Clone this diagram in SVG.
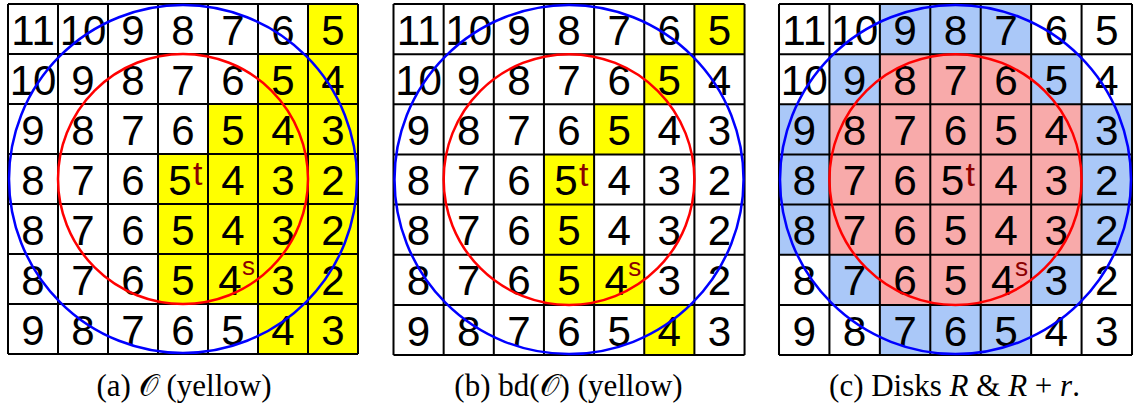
<svg xmlns="http://www.w3.org/2000/svg" width="1136" height="411" viewBox="0 0 1136 411">
<style>
.bg{fill:#ffffff}
.y{fill:#ffff00}
.b{fill:#aac8f8}
.p{fill:#f8aaaa}
.grid{fill:none;stroke:#000;stroke-width:2}
.num{font-family:"Liberation Sans",Arial,sans-serif;font-size:42px;fill:#000;text-anchor:middle}
.sup{font-family:"Liberation Sans",Arial,sans-serif;fill:#8b0000}
.rc{fill:none;stroke:#ff0000;stroke-width:2.5}
.bc{fill:none;stroke:#0000ff;stroke-width:2.5}
.cap{font-family:"Liberation Serif","DejaVu Serif",serif;font-size:31px;fill:#000;text-anchor:middle}
</style>
<defs>
<path id="gridlines" class="grid" d="M0 0H350M0 50H350M0 100H350M0 150H350M0 200H350M0 250H350M0 300H350M0 350H350M0 0V350M50 0V350M100 0V350M150 0V350M200 0V350M250 0V350M300 0V350M350 0V350"/>
</defs>
<rect x="0" y="0" width="1136" height="411" class="bg"/>

<g id="panel-a" transform="translate(8,4)">
<g id="fills-a">
<rect class="y" x="300" y="0" width="50" height="50"/>
<rect class="y" x="250" y="50" width="100" height="50"/>
<rect class="y" x="200" y="100" width="150" height="50"/>
<rect class="y" x="150" y="150" width="200" height="150"/>
<rect class="y" x="250" y="300" width="100" height="50"/>
</g>
<use href="#gridlines"/>
<g id="numbers-a" class="num">
<text y="40.5"><tspan x="25">11</tspan><tspan x="75">10</tspan><tspan x="125">9</tspan><tspan x="175">8</tspan><tspan x="225">7</tspan><tspan x="275">6</tspan><tspan x="325">5</tspan></text>
<text y="90.5"><tspan x="25">10</tspan><tspan x="75">9</tspan><tspan x="125">8</tspan><tspan x="175">7</tspan><tspan x="225">6</tspan><tspan x="275">5</tspan><tspan x="325">4</tspan></text>
<text y="140.5"><tspan x="25">9</tspan><tspan x="75">8</tspan><tspan x="125">7</tspan><tspan x="175">6</tspan><tspan x="225">5</tspan><tspan x="275">4</tspan><tspan x="325">3</tspan></text>
<text y="190.5"><tspan x="25">8</tspan><tspan x="75">7</tspan><tspan x="125">6</tspan><tspan x="172">5</tspan><tspan x="225">4</tspan><tspan x="275">3</tspan><tspan x="325">2</tspan></text>
<text y="240.5"><tspan x="25">8</tspan><tspan x="75">7</tspan><tspan x="125">6</tspan><tspan x="175">5</tspan><tspan x="225">4</tspan><tspan x="275">3</tspan><tspan x="325">2</tspan></text>
<text y="290.5"><tspan x="25">8</tspan><tspan x="75">7</tspan><tspan x="125">6</tspan><tspan x="175">5</tspan><tspan x="222">4</tspan><tspan x="275">3</tspan><tspan x="325">2</tspan></text>
<text y="340.5"><tspan x="25">9</tspan><tspan x="75">8</tspan><tspan x="125">7</tspan><tspan x="175">6</tspan><tspan x="225">5</tspan><tspan x="275">4</tspan><tspan x="325">3</tspan></text>
</g>
<text class="sup" x="185" y="181" font-size="34">t</text>
<text class="sup" x="234" y="271" font-size="26">s</text>
<circle class="bc" cx="175" cy="175" r="174"/>
<circle class="rc" cx="175" cy="175" r="125"/>
</g>

<g id="panel-b" transform="translate(393.5,4) scale(1.003,1.003)">
<g id="fills-b">
<rect class="y" x="300" y="0" width="50" height="50"/>
<rect class="y" x="250" y="50" width="50" height="50"/>
<rect class="y" x="200" y="100" width="50" height="50"/>
<rect class="y" x="150" y="150" width="50" height="150"/>
<rect class="y" x="200" y="250" width="50" height="50"/>
<rect class="y" x="250" y="300" width="50" height="50"/>
</g>
<use href="#gridlines"/>
<g id="numbers-b" class="num">
<text y="40.5"><tspan x="25">11</tspan><tspan x="75">10</tspan><tspan x="125">9</tspan><tspan x="175">8</tspan><tspan x="225">7</tspan><tspan x="275">6</tspan><tspan x="325">5</tspan></text>
<text y="90.5"><tspan x="25">10</tspan><tspan x="75">9</tspan><tspan x="125">8</tspan><tspan x="175">7</tspan><tspan x="225">6</tspan><tspan x="275">5</tspan><tspan x="325">4</tspan></text>
<text y="140.5"><tspan x="25">9</tspan><tspan x="75">8</tspan><tspan x="125">7</tspan><tspan x="175">6</tspan><tspan x="225">5</tspan><tspan x="275">4</tspan><tspan x="325">3</tspan></text>
<text y="190.5"><tspan x="25">8</tspan><tspan x="75">7</tspan><tspan x="125">6</tspan><tspan x="172">5</tspan><tspan x="225">4</tspan><tspan x="275">3</tspan><tspan x="325">2</tspan></text>
<text y="240.5"><tspan x="25">8</tspan><tspan x="75">7</tspan><tspan x="125">6</tspan><tspan x="175">5</tspan><tspan x="225">4</tspan><tspan x="275">3</tspan><tspan x="325">2</tspan></text>
<text y="290.5"><tspan x="25">8</tspan><tspan x="75">7</tspan><tspan x="125">6</tspan><tspan x="175">5</tspan><tspan x="222">4</tspan><tspan x="275">3</tspan><tspan x="325">2</tspan></text>
<text y="340.5"><tspan x="25">9</tspan><tspan x="75">8</tspan><tspan x="125">7</tspan><tspan x="175">6</tspan><tspan x="225">5</tspan><tspan x="275">4</tspan><tspan x="325">3</tspan></text>
</g>
<text class="sup" x="185" y="181" font-size="34">t</text>
<text class="sup" x="234" y="271" font-size="26">s</text>
<circle class="bc" cx="175" cy="175" r="174"/>
<circle class="rc" cx="175" cy="175" r="125"/>
</g>

<g id="panel-c" transform="translate(779,4) scale(1.0086,1.003)">
<g id="fills-c">
<rect class="b" x="100" y="0" width="150" height="50"/>
<rect class="b" x="50" y="50" width="50" height="50"/>
<rect class="p" x="100" y="50" width="150" height="50"/>
<rect class="b" x="250" y="50" width="50" height="50"/>
<rect class="b" x="0" y="100" width="50" height="150"/>
<rect class="p" x="50" y="100" width="250" height="150"/>
<rect class="b" x="300" y="100" width="50" height="150"/>
<rect class="b" x="50" y="250" width="50" height="50"/>
<rect class="p" x="100" y="250" width="150" height="50"/>
<rect class="b" x="250" y="250" width="50" height="50"/>
<rect class="b" x="100" y="300" width="150" height="50"/>
</g>
<use href="#gridlines"/>
<g id="numbers-c" class="num">
<text y="40.5"><tspan x="25">11</tspan><tspan x="75">10</tspan><tspan x="125">9</tspan><tspan x="175">8</tspan><tspan x="225">7</tspan><tspan x="275">6</tspan><tspan x="325">5</tspan></text>
<text y="90.5"><tspan x="25">10</tspan><tspan x="75">9</tspan><tspan x="125">8</tspan><tspan x="175">7</tspan><tspan x="225">6</tspan><tspan x="275">5</tspan><tspan x="325">4</tspan></text>
<text y="140.5"><tspan x="25">9</tspan><tspan x="75">8</tspan><tspan x="125">7</tspan><tspan x="175">6</tspan><tspan x="225">5</tspan><tspan x="275">4</tspan><tspan x="325">3</tspan></text>
<text y="190.5"><tspan x="25">8</tspan><tspan x="75">7</tspan><tspan x="125">6</tspan><tspan x="172">5</tspan><tspan x="225">4</tspan><tspan x="275">3</tspan><tspan x="325">2</tspan></text>
<text y="240.5"><tspan x="25">8</tspan><tspan x="75">7</tspan><tspan x="125">6</tspan><tspan x="175">5</tspan><tspan x="225">4</tspan><tspan x="275">3</tspan><tspan x="325">2</tspan></text>
<text y="290.5"><tspan x="25">8</tspan><tspan x="75">7</tspan><tspan x="125">6</tspan><tspan x="175">5</tspan><tspan x="222">4</tspan><tspan x="275">3</tspan><tspan x="325">2</tspan></text>
<text y="340.5"><tspan x="25">9</tspan><tspan x="75">8</tspan><tspan x="125">7</tspan><tspan x="175">6</tspan><tspan x="225">5</tspan><tspan x="275">4</tspan><tspan x="325">3</tspan></text>
</g>
<text class="sup" x="185" y="181" font-size="34">t</text>
<text class="sup" x="234" y="271" font-size="26">s</text>
<circle class="bc" cx="175" cy="175" r="174"/>
<circle class="rc" cx="175" cy="175" r="125"/>
</g>

<g id="captions">
<text id="cap-a" class="cap" x="184" y="396">(a) 𝒪 (yellow)</text>
<text id="cap-b" class="cap" x="568.5" y="396">(b) bd(𝒪) (yellow)</text>
<text id="cap-c" class="cap" x="954.5" y="396">(c) Disks <tspan font-style="italic">R</tspan> &amp; <tspan font-style="italic">R</tspan> + <tspan font-style="italic">r</tspan>.</text>
</g>
</svg>
